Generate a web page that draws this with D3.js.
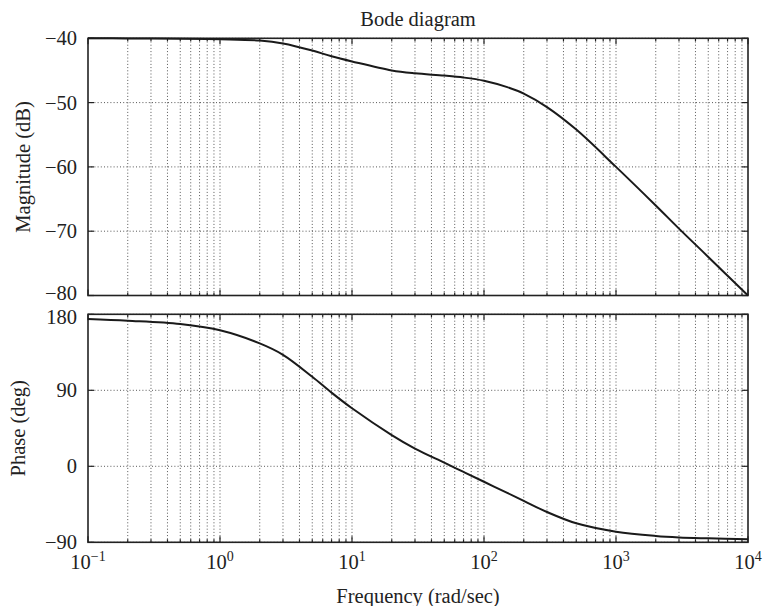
<!DOCTYPE html>
<html>
<head>
<meta charset="utf-8">
<script src="https://cdn.jsdelivr.net/npm/d3@7.9.0/dist/d3.min.js"></script>
<style>
  body { margin: 0; background: #fff; }
  text { font-family: "Liberation Serif", "Times New Roman", "DejaVu Serif", serif; fill: #222; }
  .grid line { stroke: #444; stroke-width: 0.9; stroke-dasharray: 1,2.2; }
  .frame { fill: none; stroke: #222; stroke-width: 1.6; }
  .tick { stroke: #222; stroke-width: 1.2; }
  .curve { fill: none; stroke: #1a1a1a; stroke-width: 2; }
</style>
</head>
<body>
<svg id="chart" width="764" height="606"></svg>
<script>
// values
const freq = [0.1, 0.2, 0.5, 1, 2, 3, 5, 7, 10, 20, 30, 50, 70, 100, 150, 200, 300, 500, 1000, 2000, 3000, 5000, 10000];
const magnitude = [-40, -40.02, -40.06, -40.15, -40.35, -40.8, -41.9, -42.8, -43.6, -45.0, -45.45, -45.8, -46.1, -46.6, -47.6, -48.6, -50.7, -54.2, -60.0, -66.0, -69.6, -74.0, -80.0];
const phase = [174.4, 172.4, 168.5, 161, 145.5, 132, 106, 87.2, 68.7, 37, 21, 4.3, -6.7, -18.3, -31.5, -40.9, -54.1, -67.5, -77.4, -82.5, -84.2, -85.3, -86.5];

const magTicks = [-80, -70, -60, -50, -40];
const phaseTicks = [-90, 0, 90, 180];
const decadeExps = [-1, 0, 1, 2, 3, 4];

const svg = d3.select('#chart');
const left = 88, right = 748;
const fontSize = 20.5;

const x = d3.scaleLog().domain([0.1, 1e4]).range([left, right]);
const yMag = d3.scaleLinear().domain([-80, -40]).range([295.5, 38.3]);
const yPh = d3.scaleLinear().domain([-90, 180]).range([542.3, 314.3]);

// minor + major log positions
const minorF = [];
for (let e = -1; e < 4; e++) {
  for (let k = 2; k <= 9; k++) minorF.push(k * Math.pow(10, e));
}
const majorF = decadeExps.map(e => Math.pow(10, e));

function panel(y, ticks, fmt, values, label, labelX, nudge) {
  const [y0, y1] = y.range(); // bottom, top
  const g = svg.append('g');

  const grid = g.append('g').attr('class', 'grid');
  grid.selectAll('.vx')
    .data(minorF.concat(majorF.slice(1, -1)))
    .join('line')
    .attr('x1', d => x(d)).attr('x2', d => x(d))
    .attr('y1', y1).attr('y2', y0);
  grid.selectAll('.hy')
    .data(ticks)
    .join('line')
    .attr('x1', left).attr('x2', right)
    .attr('y1', d => y(d)).attr('y2', d => y(d));

  // inward ticks on all four sides
  const tk = g.append('g');
  majorF.forEach(f => {
    tk.append('line').attr('class', 'tick').attr('x1', x(f)).attr('x2', x(f)).attr('y1', y0).attr('y2', y0 - 6);
    tk.append('line').attr('class', 'tick').attr('x1', x(f)).attr('x2', x(f)).attr('y1', y1).attr('y2', y1 + 6);
  });
  minorF.forEach(f => {
    tk.append('line').attr('class', 'tick').attr('x1', x(f)).attr('x2', x(f)).attr('y1', y0).attr('y2', y0 - 3);
    tk.append('line').attr('class', 'tick').attr('x1', x(f)).attr('x2', x(f)).attr('y1', y1).attr('y2', y1 + 3);
  });
  ticks.forEach(t => {
    tk.append('line').attr('class', 'tick').attr('x1', left).attr('x2', left + 6).attr('y1', y(t)).attr('y2', y(t));
    tk.append('line').attr('class', 'tick').attr('x1', right).attr('x2', right - 6).attr('y1', y(t)).attr('y2', y(t));
  });

  g.append('rect').attr('class', 'frame')
    .attr('x', left).attr('y', y1).attr('width', right - left).attr('height', y0 - y1);

  g.selectAll('.ylab')
    .data(ticks)
    .join('text')
    .attr('x', left - 11)
    .attr('y', d => y(d) + nudge(d))
    .attr('dy', '0.35em')
    .attr('text-anchor', 'end')
    .attr('font-size', fontSize)
    .text(fmt);

  const line = d3.line()
    .x((d, i) => x(freq[i]))
    .y(d => y(d))
    .curve(d3.curveCatmullRom.alpha(0.5));
  g.append('path').attr('class', 'curve').attr('d', line(values));

  g.append('text')
    .attr('transform', `translate(${labelX},${(y0 + y1) / 2}) rotate(-90)`)
    .attr('text-anchor', 'middle')
    .attr('font-size', fontSize)
    .text(label);
}

const minus = v => (v < 0 ? '\u2212' + Math.abs(v) : String(v));

// the -80 and 180 labels sit very close; pull them apart slightly
panel(yMag, magTicks, minus, magnitude, 'Magnitude (dB)', 30, d => (d === -80 ? -2.5 : 0));
panel(yPh, phaseTicks, minus, phase, 'Phase (deg)', 25, d => (d === 180 ? 2.5 : 0));

// x tick labels 10^n
decadeExps.forEach(e => {
  const t = svg.append('text')
    .attr('x', x(Math.pow(10, e)))
    .attr('y', 568.5)
    .attr('text-anchor', 'middle')
    .attr('font-size', fontSize);
  t.append('tspan').text('10');
  t.append('tspan').attr('dy', -8).attr('font-size', 14).text(minus(e));
});

svg.append('text')
  .attr('x', (left + right) / 2).attr('y', 26)
  .attr('text-anchor', 'middle').attr('font-size', fontSize)
  .text('Bode diagram');

svg.append('text')
  .attr('x', (left + right) / 2).attr('y', 603)
  .attr('text-anchor', 'middle').attr('font-size', fontSize)
  .text('Frequency (rad/sec)');
</script>
</body>
</html>
